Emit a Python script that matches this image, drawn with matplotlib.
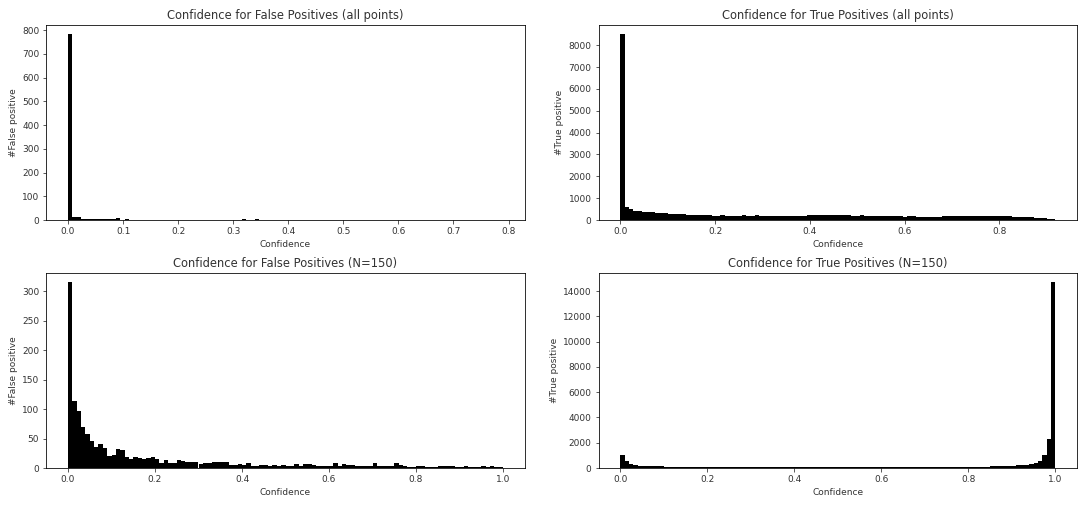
import numpy as np
import matplotlib
matplotlib.use("Agg")
import matplotlib.pyplot as plt

# ---- data (histogram counts, 100 bins each) ----
fp_all_max = 0.79
fp_all_counts = [782, 12, 12, 4, 4, 4, 4, 4, 4, 4, 4, 7, 0, 3] + [0] * 26 + [3, 0, 0, 3] + [0] * 55 + [1]

tp_all_max = 0.918
tp_all_counts = [8500, 600, 500, 420, 390, 370, 350, 345, 335, 320,
                 300, 290, 285, 270, 255, 250, 240, 235, 225, 215,
                 230, 205, 200, 210, 200, 195, 205, 190, 210, 200,
                 195, 215, 200, 195, 190, 200, 195, 200, 190, 195,
                 205, 200, 195, 210, 230, 225, 235, 230, 215, 220,
                 235, 225, 210, 205, 200, 210, 195, 190, 200, 185,
                 180, 190, 175, 170, 180, 160, 165, 170, 160, 150,
                 155, 160, 145, 150, 170, 175, 180, 175, 185, 180,
                 190, 185, 180, 190, 185, 180, 185, 175, 170, 165,
                 160, 150, 140, 130, 120, 110, 100, 80, 60, 40]

fp_150_max = 1.0
fp_150_counts = [315, 113, 96, 70, 57, 45, 36, 40, 34, 20,
                 22, 32, 30, 18, 16, 18, 17, 15, 17, 18,
                 16, 8, 14, 8, 8, 14, 12, 10, 10, 10,
                 7, 8, 8, 11, 10, 10, 11, 5, 5, 6,
                 5, 8, 4, 4, 5, 5, 4, 5, 3, 5,
                 4, 4, 6, 4, 7, 6, 5, 4, 4, 4,
                 3, 9, 4, 6, 5, 5, 4, 3, 3, 3,
                 8, 3, 3, 3, 3, 8, 5, 3, 2, 2,
                 3, 3, 2, 2, 2, 3, 4, 3, 3, 2,
                 2, 4, 2, 2, 2, 3, 2, 3, 2, 2]

tp_150_max = 1.0
tp_150_counts = ([1000, 560, 350, 240, 170, 160, 150, 150, 140, 130]
                 + [85, 80, 80, 78, 75, 75, 72, 70, 70, 70] * 7 + [70, 70, 72, 75, 78]
                 + [150, 160, 160, 170, 170, 180, 200, 240, 260, 300, 400, 560, 1000, 2270, 14700])

panels = [
    ("Confidence for False Positives (all points)", "#False positive", fp_all_counts, fp_all_max),
    ("Confidence for True Positives (all points)", "#True positive", tp_all_counts, tp_all_max),
    ("Confidence for False Positives (N=150)", "#False positive", fp_150_counts, fp_150_max),
    ("Confidence for True Positives (N=150)", "#True positive", tp_150_counts, tp_150_max),
]

plt.rcParams['font.family'] = ['DejaVu Sans']
plt.rcParams['font.size'] = 10
plt.rcParams['text.color'] = '#333333'
plt.rcParams['axes.labelcolor'] = '#333333'
plt.rcParams['xtick.color'] = '#333333'
plt.rcParams['ytick.color'] = '#333333'

fig, axes = plt.subplots(2, 2, figsize=(1086 / 72, 506 / 72), dpi=72)
for ax, (title, ylabel, counts, vmax) in zip(axes.flat, panels):
    counts = np.asarray(counts, dtype=float)
    edges = np.linspace(0, vmax, len(counts) + 1)
    centers = (edges[:-1] + edges[1:]) / 2
    ax.hist(centers, bins=edges, weights=counts, color='black')
    ax.set_title(title, fontsize=11.5)
    ax.set_xlabel("Confidence", fontsize=9)
    ax.set_ylabel(ylabel, fontsize=9)
    ax.tick_params(labelsize=9)

fig.tight_layout(pad=0.9, h_pad=0.8, w_pad=2.5)
fig.savefig("out.png", dpi=72)
